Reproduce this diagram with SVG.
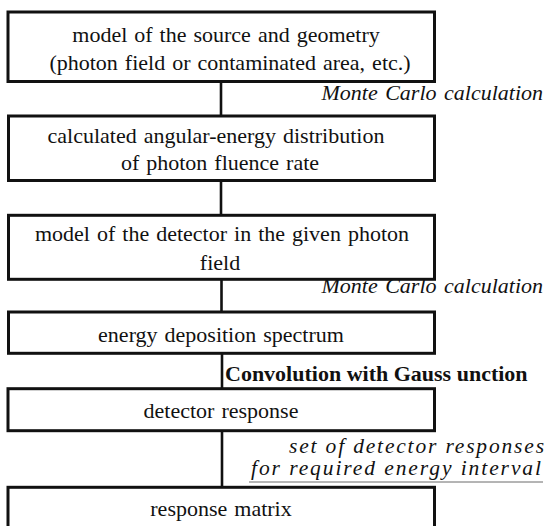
<svg xmlns="http://www.w3.org/2000/svg" width="546" height="526" viewBox="0 0 546 526">
<style>
.box{fill:#fff;stroke:#111;stroke-width:3}
.conn{stroke:#111;stroke-width:2.6;fill:none}
.t{font-family:"Liberation Serif","Times New Roman",serif;font-size:22px;fill:#111;text-anchor:middle;word-spacing:1.5px}
.lab{font-family:"Liberation Serif","Times New Roman",serif;font-size:22px;fill:#111;font-style:italic;text-anchor:end;word-spacing:2px}
.lab2{font-family:"Liberation Serif","Times New Roman",serif;font-size:21.5px;fill:#111;font-style:italic}
.bold{font-family:"Liberation Serif","Times New Roman",serif;font-size:22px;fill:#111;font-weight:bold}
</style>
<rect width="546" height="526" fill="#fff"/>
<g id="connectors">
<line class="conn" x1="221" y1="82" x2="221" y2="116"/>
<line class="conn" x1="221" y1="181" x2="221" y2="215"/>
<line class="conn" x1="221.5" y1="279" x2="221.5" y2="312"/>
<line class="conn" x1="222" y1="353" x2="222" y2="388"/>
<line class="conn" x1="222" y1="431" x2="222" y2="487"/>
<text class="lab" x="543" y="100">Monte Carlo calculation</text>
<text class="lab" x="543" y="293">Monte Carlo calculation</text>
<text class="bold" x="225" y="381">Convolution with Gauss unction</text>
<text class="lab2" x="289" y="452.5" textLength="255" lengthAdjust="spacing">set of detector responses</text>
<text class="lab2" x="251" y="475" textLength="290" lengthAdjust="spacing">for required energy interval</text>
<line x1="249" y1="482" x2="543" y2="482" stroke="#444" stroke-width="0.8"/>
</g>
<g id="n1">
<rect class="box" x="8" y="12" width="426.5" height="69.5"/>
<text class="t" x="226" y="41.5">model of the source and geometry</text>
<text class="t" x="230" y="70">(photon field or contaminated area, etc.)</text>
</g>
<g id="n2">
<rect class="box" x="8.5" y="116" width="426" height="64.5"/>
<text class="t" x="216" y="143">calculated angular-energy distribution</text>
<text class="t" x="220" y="170">of photon fluence rate</text>
</g>
<g id="n3">
<rect class="box" x="8.5" y="215.3" width="426" height="64"/>
<text class="t" x="222" y="241">model of the detector in the given photon</text>
<text class="t" x="220" y="269.5">field</text>
</g>
<g id="n4">
<rect class="box" x="8.5" y="312" width="426" height="41.3"/>
<text class="t" x="221" y="341.5">energy deposition spectrum</text>
</g>
<g id="n5">
<rect class="box" x="8" y="388.7" width="426.5" height="42"/>
<text class="t" x="221" y="418">detector response</text>
</g>
<g id="n6">
<rect class="box" x="8" y="487.3" width="426.5" height="60"/>
<text class="t" x="221" y="516">response matrix</text>
</g>
</svg>
